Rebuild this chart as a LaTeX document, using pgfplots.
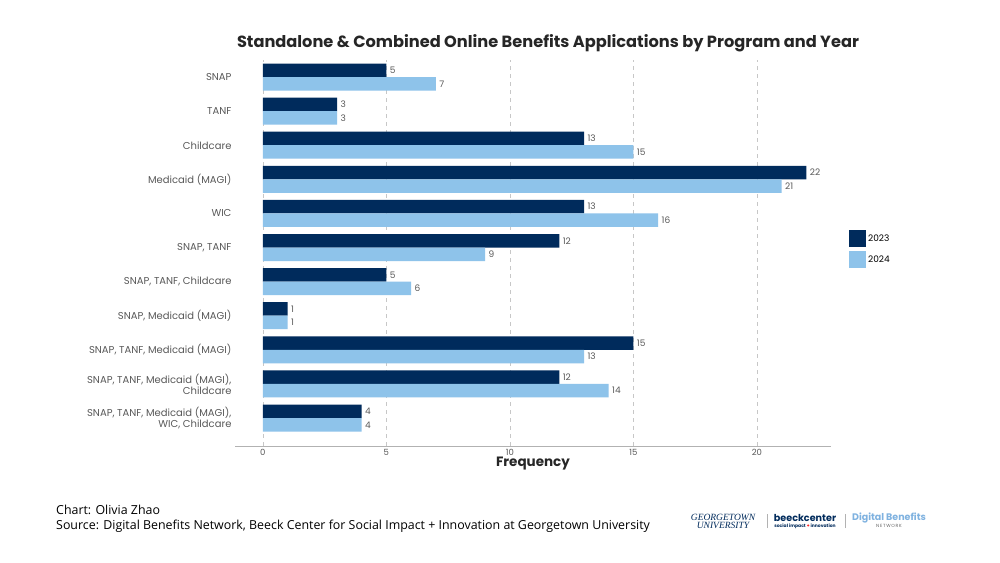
\documentclass[border=0pt]{standalone}
\usepackage{fontspec}
\setmainfont{Poppins}
\newfontfamily\footfont{Open Sans}
\newfontfamily\gufont{Liberation Serif}
\usepackage{pgfplots}
\pgfplotsset{compat=1.18}
\definecolor{dark}{HTML}{002B5C}
\definecolor{light}{HTML}{8EC3EA}
\definecolor{lbl}{HTML}{595959}
\definecolor{dbn}{HTML}{7FB2E0}
\begin{document}
\begin{tikzpicture}[x=1pt,y=1pt]
\fill[white] (0,0) rectangle (1000,562);
\begin{axis}[
  at={(235pt,116pt)}, anchor=south west, scale only axis,
  width=596pt, height=386pt,
  /pgf/number format/assume math mode=true,
  xbar, bar width=13.5pt,
  xmin=-1.13, xmax=23, ymin=-0.82, ymax=10.5,
  ytick={0,...,10},
  yticklabels={{SNAP, TANF, Medicaid (MAGI),\\WIC, Childcare},{SNAP, TANF, Medicaid (MAGI),\\Childcare},{SNAP, TANF, Medicaid (MAGI)},{SNAP, Medicaid (MAGI)},{SNAP, TANF, Childcare},{SNAP, TANF},{WIC},{Medicaid (MAGI)},{Childcare},{TANF},{SNAP}},
  xtick={0,5,10,15,20},
  axis x line*=bottom, axis y line=left,
  y axis line style={draw=none},
  x axis line style={draw=black!30, line width=0.8pt, -},
  major tick length=0pt,
  xmajorgrids, major grid style={draw=black!22, dash pattern=on 4pt off 4pt, line width=0.7pt},
  yticklabel style={font=\fontsize{10}{11}\selectfont, text=lbl, align=right},
  xticklabel style={font=\fontsize{8.5}{10}\selectfont, text=lbl},
  nodes near coords, nodes near coords align={horizontal},
  every node near coord/.append style={font=\fontsize{9}{10}\selectfont, text=lbl, xshift=0pt},
  legend style={at={(1.03,0.56)}, anchor=north west, draw=none, fill=none,
    font=\fontsize{9}{10}\selectfont, row sep=4pt, inner sep=0pt},
  legend image code/.code={\fill[#1] (0pt,-8.5pt) rectangle (17pt,8.5pt);},
  legend cell align=left,
]
\addplot[fill=dark, draw=none, bar shift=6.75pt] coordinates {
(5,10) (3,9) (13,8) (22,7) (13,6) (12,5) (5,4) (1,3) (15,2) (12,1) (4,0)};
\addplot[fill=light, draw=none, bar shift=-6.75pt] coordinates {
(7,10) (3,9) (15,8) (21,7) (16,6) (9,5) (6,4) (1,3) (13,2) (14,1) (4,0)};
\legend{2023,2024}
\end{axis}
\node[font=\fontsize{16.2}{18}\selectfont\bfseries, text=black!85] at (548,519) {Standalone \& Combined Online Benefits Applications by Program and Year};
\node[font=\fontsize{13.5}{15}\selectfont\bfseries, text=black!85] at (533,98) {Frequency};
\node[anchor=west, font=\footfont\fontsize{12.4}{14}\selectfont, inner sep=0pt] at (56,52) {Chart: Olivia Zhao};
\node[anchor=west, font=\footfont\fontsize{12.4}{14}\selectfont, inner sep=0pt] at (56,36) {Source: Digital Benefits Network, Beeck Center for Social Impact + Innovation at Georgetown University};
% logos as text
\node[anchor=center, align=center, font=\gufont\itshape\fontsize{9.5}{8}\selectfont, text=dark, inner sep=0pt] at (723,41) {GEORGETOWN\\UNIVERSITY};
\draw[black!30, line width=0.8pt] (767,34) -- (767,48);
\node[anchor=center, font=\fontsize{9.6}{11}\selectfont\bfseries, text=dark, inner sep=0pt] at (805,44) {beeckcenter};
\node[anchor=center, font=\fontsize{4.5}{5}\selectfont\bfseries, text=dark, inner sep=0pt] at (805,36) {social impact {\color{red}+} innovation};
\draw[black!30, line width=0.8pt] (845,34) -- (845,48);
\node[anchor=center, font=\fontsize{9.5}{10}\selectfont\bfseries, text=dbn, inner sep=0pt] at (889,44) {Digital Benefits};
\node[anchor=center, font=\fontsize{4.5}{5}\selectfont, text=black!60, inner sep=0pt] at (889,36) {N\,E\,T\,W\,O\,R\,K};
\end{tikzpicture}
\end{document}
